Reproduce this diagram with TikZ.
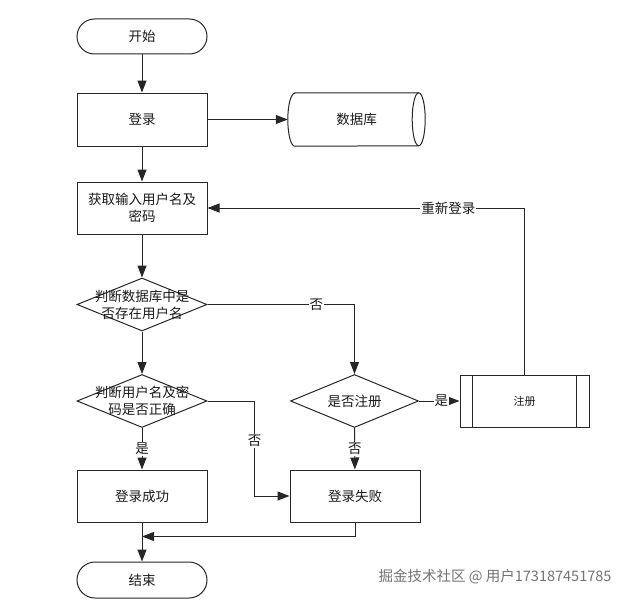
\documentclass[tikz,border=0pt]{standalone}
\usepackage{fontspec}
\setmainfont{Noto Sans CJK SC}
\usetikzlibrary{arrows.meta,shapes.geometric}

\begin{document}
\begin{tikzpicture}[x=1pt,y=-1pt,
  every node/.style={font=\fontsize{13.5}{17}\selectfont,text=black!90},
  line/.style={draw=black!85,line width=1pt},
  arr/.style={line,-{Triangle[length=12pt,width=9pt]}},
  box/.style={line,rectangle,minimum width=130pt,minimum height=53pt,align=center,inner sep=0pt},
  term/.style={box,minimum height=35pt,rounded corners=17.5pt},
  dia/.style={line,diamond,minimum width=130pt,minimum height=53pt,inner sep=0pt,aspect=2.45},
  txt/.style={align=center,inner sep=0pt},
  tag/.style={fill=white,inner sep=1pt}]
  \useasboundingbox (0,0) rectangle (631,602);

  \node[term] (start) at (142,36.5) {开始};
  \node[box] (login) at (142,119.5) {登录};
  \node[minimum width=137pt,minimum height=53pt,inner sep=0pt] (db) at (356.5,119.5) {数据库};
  \node[box,minimum height=52pt] (input) at (142,208) {获取输入用户名及\\密码};
  \node[dia] (exist) at (142,304.5) {};
  \node[txt] (existtxt) at (exist) {判断数据库中是\\否存在用户名};
  \node[dia] (check) at (142,401) {};
  \node[txt] (checktxt) at (check) {判断用户名及密\\码是否正确};
  \node[dia,minimum width=128pt] (isreg) at (354.5,401) {是否注册};
  \node[box,minimum width=129pt,minimum height=52pt,font=\fontsize{11}{13}\selectfont] (reg) at (524.5,401) {注册};
  \node[box,minimum height=52pt] (ok) at (142,496) {登录成功};
  \node[box,minimum height=52pt] (fail) at (355,496) {登录失败};
  \node[term,minimum height=36pt,rounded corners=18pt] (end) at (142,580) {结束};
  \node[text=black!55,font=\fontsize{14.5}{16}\selectfont,anchor=east] (mark) at (615,577) {掘金技术社区 @ 用户173187451785};

  \draw[line] ([xshift=7pt]db.north west) -- ([xshift=-6.5pt]db.north east)
    arc[start angle=90,end angle=-90,x radius=6.5pt,y radius=26.5pt]
    -- ([xshift=7pt]db.south west)
    arc[start angle=270,end angle=90,x radius=7pt,y radius=26.5pt] -- cycle;
  \draw[line] ([xshift=-6.5pt]db.north east) arc[start angle=90,end angle=270,x radius=6.5pt,y radius=26.5pt];
  \draw[line] ([xshift=13pt]reg.north west) -- ([xshift=13pt]reg.south west);
  \draw[line] ([xshift=-13pt]reg.north east) -- ([xshift=-13pt]reg.south east);

  \draw[arr] (start) -- (login);
  \draw[arr] (login) -- (db);
  \draw[arr] (login) -- (input);
  \draw[arr] (input) -- (exist);
  \draw[arr] (exist) -- (check);
  \draw[arr] (exist.east) -| node[tag,pos=0.37]{否} (isreg.north);
  \draw[arr] (check.east) -| node[tag,pos=0.71]{否} ([xshift=-35pt]fail.west) -- (fail.west);
  \draw[arr] (check) -- node[tag]{是} (ok);
  \draw[arr] (isreg) -- node[tag]{否} (fail);
  \draw[arr] (isreg) -- node[tag,pos=0.55]{是} (reg);
  \draw[arr] (reg.north) |- node[tag,pos=0.62]{重新登录} (input.east);
  \draw[arr] (fail.south) |- ([yshift=-14pt]ok.south);
  \draw[arr] (ok) -- (end);
\end{tikzpicture}
\end{document}
